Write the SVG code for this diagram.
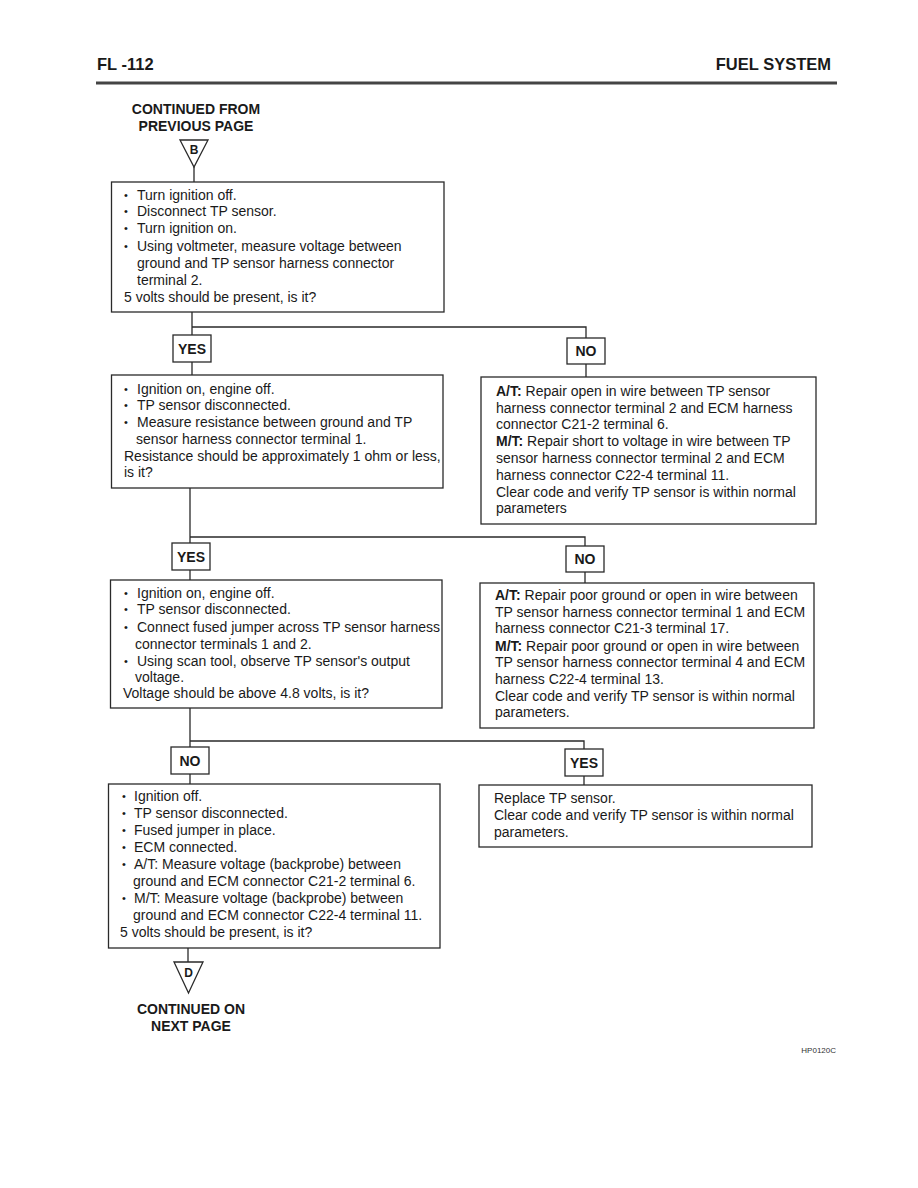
<svg xmlns="http://www.w3.org/2000/svg" width="918" height="1188" viewBox="0 0 918 1188">
<style>
.t{font-family:"Liberation Sans",Arial,sans-serif;font-size:14px;fill:#1a1a1a}
.d{font-family:"Liberation Sans",Arial,sans-serif;font-size:11px;fill:#1a1a1a}
.b{font-weight:bold}
.h{font-family:"Liberation Sans",Arial,sans-serif;font-size:16.5px;font-weight:bold;fill:#1a1a1a}
.lab{font-family:"Liberation Sans",Arial,sans-serif;font-size:14px;font-weight:bold;fill:#1a1a1a;text-anchor:middle}
.box{fill:#fff;stroke:#2a2a2a;stroke-width:1.3}
.ln{fill:none;stroke:#2a2a2a;stroke-width:1.3}
</style>
<rect width="918" height="1188" fill="#fff"/>
<g id="header">
<text class="h" x="97" y="70">FL -112</text>
<text class="h" x="831" y="70" text-anchor="end">FUEL SYSTEM</text>
<rect x="96" y="81.5" width="741" height="3" fill="#444"/>
</g>
<g id="connectors">
<path class="ln" d="M194 167V182"/>
<path class="ln" d="M192 312V375M192 327H586V377"/>
<path class="ln" d="M190 488V580M190 537H585V583"/>
<path class="ln" d="M190 708V784M190 741H584V785"/>
<path class="ln" d="M188 948V962"/>
</g>
<g id="start">
<text class="lab" x="196" y="114">CONTINUED FROM</text>
<text class="lab" x="196" y="131">PREVIOUS PAGE</text>
<path class="box" d="M180 140H208L194 167Z"/>
<text class="lab" x="194" y="154" style="font-size:12px">B</text>
</g>
<g id="box1">
<rect class="box" x="111.5" y="182" width="332.5" height="130"/>
<text class="d" x="124" y="199">•</text><text class="t" x="137" y="200">Turn ignition off.</text>
<text class="d" x="124" y="215">•</text><text class="t" x="137" y="216">Disconnect TP sensor.</text>
<text class="d" x="124" y="232">•</text><text class="t" x="137" y="233">Turn ignition on.</text>
<text class="d" x="124" y="250">•</text><text class="t" x="137" y="251">Using voltmeter, measure voltage between</text>
<text class="t" x="137" y="268">ground and TP sensor harness connector</text>
<text class="t" x="137" y="285">terminal 2.</text>
<text class="t" x="124" y="302">5 volts should be present, is it?</text>
</g>
<g id="yes1">
<rect class="box" x="173" y="335" width="38" height="27"/>
<text class="lab" x="192" y="354">YES</text>
</g>
<g id="no1">
<rect class="box" x="567" y="338" width="38" height="26"/>
<text class="lab" x="586" y="356">NO</text>
</g>
<g id="box2">
<rect class="box" x="111.5" y="375" width="331.5" height="113"/>
<text class="d" x="124" y="393">•</text><text class="t" x="137" y="394">Ignition on, engine off.</text>
<text class="d" x="124" y="409">•</text><text class="t" x="137" y="410">TP sensor disconnected.</text>
<text class="d" x="124" y="426">•</text><text class="t" x="137" y="427">Measure resistance between ground and TP</text>
<text class="t" x="136" y="444">sensor harness connector terminal 1.</text>
<text class="t" x="124" y="461">Resistance should be approximately 1 ohm or less,</text>
<text class="t" x="124" y="477">is it?</text>
</g>
<g id="box3">
<rect class="box" x="481" y="377" width="335" height="147"/>
<text class="t" x="496" y="396"><tspan class="b">A/T:</tspan> Repair open in wire between TP sensor</text>
<text class="t" x="496" y="413">harness connector terminal 2 and ECM harness</text>
<text class="t" x="496" y="429">connector C21-2 terminal 6.</text>
<text class="t" x="496" y="446"><tspan class="b">M/T:</tspan> Repair short to voltage in wire between TP</text>
<text class="t" x="496" y="463">sensor harness connector terminal 2 and ECM</text>
<text class="t" x="496" y="480">harness connector C22-4 terminal 11.</text>
<text class="t" x="496" y="497">Clear code and verify TP sensor is within normal</text>
<text class="t" x="496" y="513">parameters</text>
</g>
<g id="yes2">
<rect class="box" x="172" y="543" width="38" height="27"/>
<text class="lab" x="191" y="562">YES</text>
</g>
<g id="no2">
<rect class="box" x="566" y="546" width="38" height="26"/>
<text class="lab" x="585" y="564">NO</text>
</g>
<g id="box4">
<rect class="box" x="110.5" y="580" width="331.5" height="128"/>
<text class="d" x="124" y="597">•</text><text class="t" x="137" y="598">Ignition on, engine off.</text>
<text class="d" x="124" y="613">•</text><text class="t" x="137" y="614">TP sensor disconnected.</text>
<text class="d" x="124" y="631">•</text><text class="t" x="137" y="632">Connect fused jumper across TP sensor harness</text>
<text class="t" x="135" y="649">connector terminals 1 and 2.</text>
<text class="d" x="124" y="665">•</text><text class="t" x="137" y="666">Using scan tool, observe TP sensor's output</text>
<text class="t" x="135" y="682">voltage.</text>
<text class="t" x="123" y="698">Voltage should be above 4.8 volts, is it?</text>
</g>
<g id="box5">
<rect class="box" x="480" y="583" width="334" height="145"/>
<text class="t" x="495" y="600"><tspan class="b">A/T:</tspan> Repair poor ground or open in wire between</text>
<text class="t" x="495" y="617">TP sensor harness connector terminal 1 and ECM</text>
<text class="t" x="495" y="633">harness connector C21-3 terminal 17.</text>
<text class="t" x="495" y="651"><tspan class="b">M/T:</tspan> Repair poor ground or open in wire between</text>
<text class="t" x="495" y="667">TP sensor harness connector terminal 4 and ECM</text>
<text class="t" x="495" y="684">harness C22-4 terminal 13.</text>
<text class="t" x="495" y="701">Clear code and verify TP sensor is within normal</text>
<text class="t" x="495" y="717">parameters.</text>
</g>
<g id="no3">
<rect class="box" x="171" y="747" width="38" height="27"/>
<text class="lab" x="190" y="766">NO</text>
</g>
<g id="yes3">
<rect class="box" x="565" y="749" width="38" height="27"/>
<text class="lab" x="584" y="768">YES</text>
</g>
<g id="box6">
<rect class="box" x="108.5" y="784" width="331.5" height="164"/>
<text class="d" x="122" y="800">•</text><text class="t" x="134" y="801">Ignition off.</text>
<text class="d" x="122" y="817">•</text><text class="t" x="134" y="818">TP sensor disconnected.</text>
<text class="d" x="122" y="834">•</text><text class="t" x="134" y="835">Fused jumper in place.</text>
<text class="d" x="122" y="851">•</text><text class="t" x="134" y="852">ECM connected.</text>
<text class="d" x="122" y="868">•</text><text class="t" x="134" y="869">A/T: Measure voltage (backprobe) between</text>
<text class="t" x="133" y="886">ground and ECM connector C21-2 terminal 6.</text>
<text class="d" x="122" y="902">•</text><text class="t" x="134" y="903">M/T: Measure voltage (backprobe) between</text>
<text class="t" x="133" y="920">ground and ECM connector C22-4 terminal 11.</text>
<text class="t" x="120" y="937">5 volts should be present, is it?</text>
</g>
<g id="box7">
<rect class="box" x="479" y="785" width="333" height="62"/>
<text class="t" x="494" y="803">Replace TP sensor.</text>
<text class="t" x="494" y="820">Clear code and verify TP sensor is within normal</text>
<text class="t" x="494" y="837">parameters.</text>
</g>
<g id="end">
<path class="box" d="M174 962H203L188.5 993Z"/>
<text class="lab" x="188.5" y="977" style="font-size:12px">D</text>
<text class="lab" x="191" y="1014">CONTINUED ON</text>
<text class="lab" x="191" y="1031">NEXT PAGE</text>
</g>
<text x="836" y="1053" text-anchor="end" style="font-family:'Liberation Sans',Arial,sans-serif;font-size:8px;fill:#333">HP0120C</text>
</svg>
